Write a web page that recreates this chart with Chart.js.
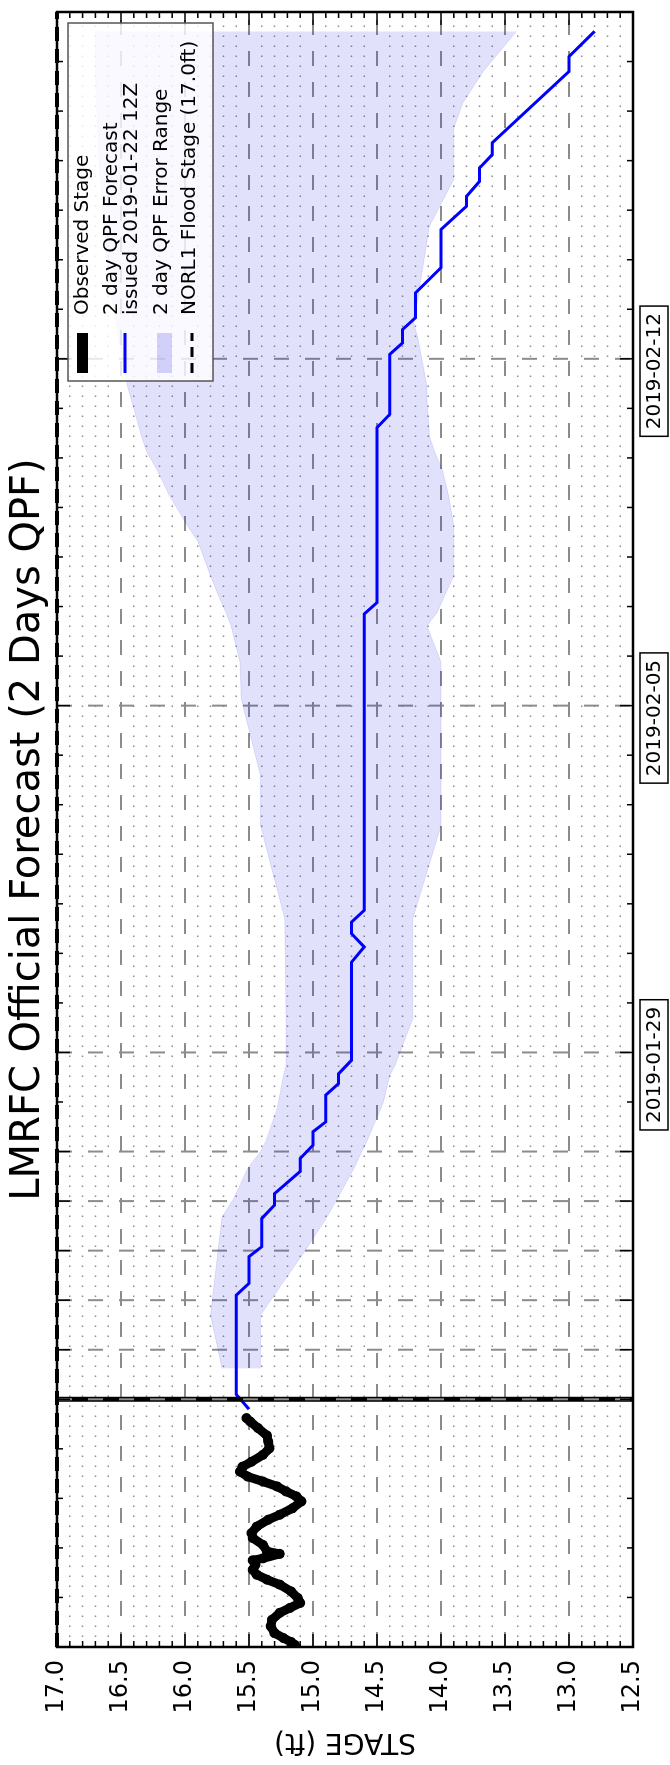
<!DOCTYPE html>
<html>
<head>
<meta charset="utf-8">
<script src="https://cdn.jsdelivr.net/npm/chart.js@4.4.1/dist/chart.umd.min.js"></script>
<style>
  html, body { margin: 0; padding: 0; background: #fff; overflow: hidden; }
  #wrap {
    position: absolute; left: 0; top: 0;
    width: 1765px; height: 670px;
    transform-origin: 0 0;
    transform: translateY(1765px) rotate(-90deg);
  }
</style>
</head>
<body>
<div id="wrap"><canvas id="stage-chart" width="1765" height="670"></canvas></div>
<script>
// time is in days from forecast issue (2019-01-22 12Z)
const obsTimes = [-4.96, -4.90, -4.82, -4.72, -4.58, -4.45, -4.31, -4.21, -4.11, -4.01,
  -3.88, -3.74, -3.64, -3.54, -3.44, -3.34, -3.25, -3.21, -3.12, -3.07,
  -2.94, -2.80, -2.70, -2.57, -2.43, -2.33, -2.20, -2.06, -1.96, -1.86,
  -1.76, -1.66, -1.56, -1.46, -1.36, -1.26, -1.12, -0.99, -0.85, -0.73,
  -0.58, -0.45, -0.38];
const obsStage = [15.14, 15.17, 15.23, 15.30, 15.33, 15.32, 15.26, 15.18, 15.10, 15.12,
  15.17, 15.26, 15.36, 15.44, 15.47, 15.45, 15.47, 15.39, 15.26, 15.36,
  15.39, 15.47, 15.48, 15.44, 15.35, 15.26, 15.16, 15.09, 15.13, 15.21,
  15.28, 15.39, 15.51, 15.57, 15.55, 15.48, 15.39, 15.34, 15.35, 15.36,
  15.43, 15.49, 15.52];

const fcTimes = [-0.2, 0.1, 2.10, 2.34, 2.88, 3.08, 3.65, 3.92, 4.15, 4.60,
  4.86, 5.13, 5.40, 5.60, 6.14, 6.37, 6.57, 6.84, 8.82, 9.13,
  9.40, 9.63, 9.87, 15.85, 16.08, 19.61, 19.88, 21.09, 21.32, 21.59,
  21.83, 22.33, 22.84, 23.61, 24.08, 24.28, 24.58, 24.85, 25.12, 25.36,
  26.80, 27.10, 27.61];
const fcStage = [15.5, 15.6, 15.6, 15.5, 15.5, 15.4, 15.4, 15.3, 15.3, 15.1,
  15.1, 15.0, 15.0, 14.9, 14.9, 14.8, 14.8, 14.7, 14.7, 14.6,
  14.7, 14.7, 14.6, 14.6, 14.5, 14.5, 14.4, 14.4, 14.3, 14.3,
  14.2, 14.2, 14.0, 14.0, 13.8, 13.8, 13.7, 13.7, 13.6, 13.6,
  13.0, 13.0, 12.8];

const bandTimes = [0.62, 1.7, 3.04, 3.68, 4.05, 4.66, 5.0, 5.2, 5.87, 6.0,
  6.54, 6.74, 7.68, 9.7, 11.58, 12.59, 14.13, 14.88, 15.61, 15.88,
  16.17, 16.62, 17.32, 17.63, 18.23, 18.77, 19.13, 19.44, 20.18, 20.45,
  21.41, 21.79, 22.2, 22.56, 23.68, 24.62, 24.83, 25.66, 26.16, 26.8,
  27.3, 27.61];
const bandHigh = [15.71, 15.80, 15.74, 15.71, 15.62, 15.51, 15.41, 15.37, 15.28, 15.27,
  15.23, 15.21, 15.21, 15.22, 15.41, 15.41, 15.56, 15.57, 15.64, 15.68,
  15.73, 15.80, 15.90, 15.98, 16.12, 16.22, 16.30, 16.34, 16.42, 16.45,
  16.52, 16.54, 16.57, 16.59, 16.63, 16.66, 16.67, 16.68, 16.69, 16.70,
  16.70, 16.70];
const bandLow = [15.41, 15.41, 15.05, 14.89, 14.81, 14.68, 14.62, 14.58, 14.47, 14.45,
  14.40, 14.36, 14.22, 14.22, 14.00, 14.00, 14.00, 14.00, 14.11, 14.03,
  13.98, 13.90, 13.90, 13.90, 13.94, 13.99, 14.05, 14.09, 14.11, 14.11,
  14.18, 14.22, 14.18, 14.16, 14.09, 13.90, 13.90, 13.90, 13.83, 13.67,
  13.51, 13.41];

const floodStage = 17.0;
const nowTime = 0;
const timeMin = -5, timeMax = 28;
const stageMin = 12.5, stageMax = 17.0;
const majorDays = [0, 1, 2, 3, 4, 5, 7, 14, 21];
const dateTicks = [6.75, 13.75, 20.75];
const dateLabels = ['2019-01-29', '2019-02-05', '2019-02-12'];
const legendLabels = ['Observed Stage', '2 day QPF Forecast', 'issued 2019-01-22 12Z',
  '2 day QPF Error Range', 'NORL1 Flood Stage (17.0ft)'];

const FONT = '"DejaVu Sans", sans-serif';
const BAND = 'rgba(20, 20, 230, 0.13)';
const GRID = '#8c8c8c';

const pts = (xs, ys) => xs.map((t, i) => ({ x: t, y: ys[i] }));

function seg(ctx, x1, y1, x2, y2) {
  ctx.beginPath();
  ctx.moveTo(x1, y1);
  ctx.lineTo(x2, y2);
  ctx.stroke();
}

const gridPlugin = {
  id: 'mplGrid',
  beforeDatasetsDraw(chart) {
    const { ctx, chartArea: a, scales: { x, y } } = chart;
    ctx.save();
    ctx.beginPath();
    ctx.rect(a.left, a.top, a.right - a.left, a.bottom - a.top);
    ctx.clip();
    ctx.strokeStyle = GRID;
    // minor stage lines, dotted
    ctx.lineWidth = 1.5;
    ctx.setLineDash([1.5, 8.5]);
    for (let i = 1; i < 45; i++) {
      if (i % 5 === 0) continue;
      const py = y.getPixelForValue(stageMin + i * 0.1);
      seg(ctx, a.left, py, a.right, py);
    }
    // major stage lines, dashed
    ctx.lineWidth = 2;
    ctx.setLineDash([15, 16]);
    for (let i = 1; i < 9; i++) {
      const py = y.getPixelForValue(stageMin + i * 0.5);
      seg(ctx, a.left, py, a.right, py);
    }
    majorDays.forEach(d => {
      const px = x.getPixelForValue(d);
      seg(ctx, px, a.top, px, a.bottom);
    });
    ctx.restore();
  }
};

const overlayPlugin = {
  id: 'mplOverlay',
  afterDatasetsDraw(chart) {
    const { ctx, chartArea: a, scales: { x, y } } = chart;
    ctx.save();

    // grid dash drawn over the "now" line
    ctx.strokeStyle = GRID;
    ctx.lineWidth = 2;
    ctx.setLineDash([15, 16]);
    const nx = x.getPixelForValue(nowTime);
    seg(ctx, nx, a.top, nx, a.bottom);
    ctx.setLineDash([]);

    // inward ticks
    ctx.strokeStyle = '#000';
    ctx.lineWidth = 1.5;
    for (let i = 0; i <= 45; i++) {
      const py = y.getPixelForValue(stageMin + i * 0.1);
      const len = i % 5 === 0 ? 13 : 6;
      seg(ctx, a.left, py, a.left + len, py);
      seg(ctx, a.right - len, py, a.right, py);
    }
    for (let d = timeMin + 1; d < timeMax; d++) {
      const px = x.getPixelForValue(d);
      const len = majorDays.includes(d) ? 13 : 6;
      seg(ctx, px, a.top, px, a.top + len);
      seg(ctx, px, a.bottom - len, px, a.bottom);
    }

    // axes frame
    ctx.lineWidth = 2.5;
    ctx.strokeRect(a.left, a.top, a.right - a.left, a.bottom - a.top);

    // flood stage dashes on the frame
    ctx.lineWidth = 4;
    ctx.setLineDash([14, 8]);
    const fy = y.getPixelForValue(floodStage);
    seg(ctx, a.left, fy, a.right, fy);
    ctx.setLineDash([]);

    // legend
    const L = 1384, R = 1742, T = 68, B = 213;
    const h0 = 1392, h1 = 1432;
    ctx.fillStyle = 'rgba(255,255,255,0.8)';
    ctx.fillRect(L, T, R - L, B - T);
    ctx.strokeStyle = '#555';
    ctx.lineWidth = 1.5;
    ctx.strokeRect(L, T, R - L, B - T);
    ctx.fillStyle = '#000';
    ctx.fillRect(h0, 77, h1 - h0, 11);
    ctx.strokeStyle = '#0000ff';
    ctx.lineWidth = 3;
    seg(ctx, h0, 125, h1, 125);
    ctx.fillStyle = 'rgba(20, 20, 230, 0.18)';
    ctx.fillRect(h0, 157, h1 - h0, 15);
    ctx.strokeStyle = '#000';
    ctx.lineWidth = 3;
    ctx.setLineDash([10, 6]);
    seg(ctx, h0, 192, h1, 192);
    ctx.setLineDash([]);
    ctx.fillStyle = '#000';
    ctx.font = '20px ' + FONT;
    ctx.textAlign = 'left';
    ctx.textBaseline = 'alphabetic';
    const base = [87.5, 116.5, 137, 166.5, 195];
    legendLabels.forEach((s, i) => ctx.fillText(s, 1450, base[i]));

    // boxed date labels under the axis
    ctx.textAlign = 'center';
    ctx.textBaseline = 'middle';
    ctx.lineWidth = 1.5;
    dateTicks.forEach((t, i) => {
      const px = x.getPixelForValue(t);
      const w = ctx.measureText(dateLabels[i]).width + 14;
      ctx.fillStyle = '#fff';
      ctx.fillRect(px - w / 2, 640, w, 28);
      ctx.strokeRect(px - w / 2, 640, w, 28);
      ctx.fillStyle = '#000';
      ctx.fillText(dateLabels[i], px, 655);
    });

    ctx.restore();
  }
};

Chart.defaults.font.family = FONT;
Chart.defaults.color = '#000';

new Chart(document.getElementById('stage-chart'), {
  type: 'line',
  data: {
    datasets: [
      {
        label: 'error high',
        data: pts(bandTimes, bandHigh),
        borderColor: 'rgba(20, 20, 230, 0.10)',
        borderWidth: 1,
        pointRadius: 0,
        fill: false,
        order: 6
      },
      {
        label: '2 day QPF Error Range',
        data: pts(bandTimes, bandLow),
        borderColor: 'rgba(20, 20, 230, 0.10)',
        borderWidth: 1,
        backgroundColor: BAND,
        pointRadius: 0,
        fill: '-1',
        order: 5
      },
      {
        label: '2 day QPF Forecast',
        data: pts(fcTimes, fcStage),
        borderColor: '#0000ff',
        borderWidth: 3,
        pointRadius: 0,
        fill: false,
        order: 3
      },
      {
        label: 'Observed Stage',
        data: pts(obsTimes, obsStage),
        borderColor: '#000',
        borderWidth: 9,
        borderJoinStyle: 'round',
        borderCapStyle: 'round',
        pointRadius: 5,
        pointBackgroundColor: '#000',
        pointBorderWidth: 0,
        fill: false,
        order: 2
      },
      {
        label: 'now',
        data: [{ x: nowTime, y: stageMin }, { x: nowTime, y: stageMax }],
        borderColor: '#000',
        borderWidth: 5,
        pointRadius: 0,
        fill: false,
        order: 1
      }
    ]
  },
  options: {
    responsive: false,
    animation: false,
    events: [],
    layout: { padding: { top: 0, right: 12, bottom: 37, left: 0 } },
    plugins: {
      legend: { display: false },
      tooltip: { enabled: false },
      title: {
        display: true,
        fullSize: false,
        text: 'LMRFC Official Forecast (2 Days QPF)',
        font: { size: 40, weight: 'normal' },
        color: '#000',
        padding: { top: 5, bottom: 4 }
      }
    },
    scales: {
      x: {
        type: 'linear',
        display: false,
        min: timeMin,
        max: timeMax
      },
      y: {
        type: 'linear',
        position: 'left',
        min: stageMin,
        max: stageMax,
        grid: { display: false, drawTicks: false },
        border: { display: false },
        ticks: {
          stepSize: 0.5,
          padding: 13,
          font: { size: 24 },
          color: '#000',
          callback: v => v.toFixed(1)
        },
        title: {
          display: true,
          text: 'STAGE (ft)',
          font: { size: 28 },
          color: '#000',
          padding: { top: 7, bottom: 0 }
        },
        afterFit: s => { s.width = 118; }
      }
    }
  },
  plugins: [gridPlugin, overlayPlugin]
});
</script>
</body>
</html>
